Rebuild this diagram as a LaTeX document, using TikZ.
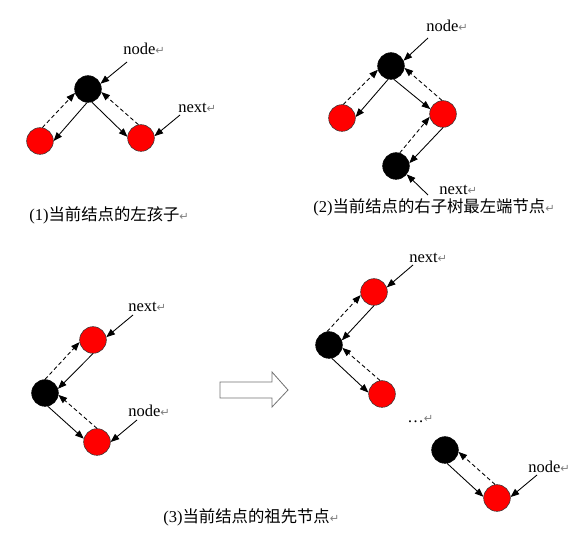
\documentclass[tikz,border=0pt]{standalone}
\usepackage{fontspec}
\setmainfont{Liberation Serif}
\newfontfamily\cjk[Scale=0.99]{Noto Sans CJK SC}
\newfontfamily\symb{DejaVu Sans}
\usetikzlibrary{arrows.meta}
\newcommand\ret{{\symb\color{gray}\fontsize{8.5}{9}\selectfont ↵}}
\tikzset{
  blk/.style={circle,draw,fill=black,minimum size=20pt,inner sep=0pt},
  redn/.style={circle,draw=black!80,fill=red,minimum size=20pt,inner sep=0pt},
  lbl/.style={inner sep=0pt,anchor=base west},
  link/.style={-{Triangle[length=6.5pt,width=5pt]},line width=0.65pt},
  back/.style={link,dash pattern=on 3pt off 2pt},
}
\begin{document}
\begin{tikzpicture}[x=0.75pt,y=-0.75pt,font=\fontsize{12.4}{14}\selectfont]
\useasboundingbox (0,0) rectangle (572,552);
% (1) left child
\node[blk] (b1) at (88,89) {};
\node[redn] (r1l) at (40,141) {};
\node[redn] (r1r) at (141,138) {};
\node[lbl] (node1) at (123,55) {node\ret};
\node[lbl] (next1) at (178,113) {next\ret};
\node[lbl] (cap1) at (29,221) {(1){\cjk 当前结点的左孩子}\ret};

\draw[link] (b1.266) -- (r1l.0);
\draw[back] (r1l.80) -- (b1.197);
\draw[link] (b1.286) -- (r1r.175);
\draw[back] (r1r.101) -- (b1.347);
\draw[link] ([shift={(4,7)}]node1.base west) -- (b1.23);
\draw[link] ([shift={(2,2)}]next1.base west) -- (r1r.8);

% (2) leftmost node of right subtree
\node[blk] (b2) at (391,66) {};
\node[redn] (r2l) at (342,118) {};
\node[redn] (r2r) at (443,114) {};
\node[blk] (b2b) at (396,166) {};
\node[lbl] (node2) at (426,32) {node\ret};
\node[lbl] (next2) at (439,195) {next\ret};
\node[lbl] (cap2) at (313,213) {(2){\cjk 当前结点的右子树最左端节点}\ret};

\draw[link] (b2.258) -- (r2l.4);
\draw[back] (r2l.85) -- (b2.196);
\draw[link] (b2.282) -- (r2r.159);
\draw[back] (r2r.94) -- (b2.352);
\draw[link] (r2r.270) -- (b2b.12);
\draw[back] (b2b.74) -- (r2r.192);
\draw[link] ([shift={(2,6)}]node2.base west) -- (b2.23);
\draw[link] ([shift={(-11,0)}]next2.base west) -- (b2b.322);

% (3) ancestor
\node[redn] (r3t) at (93,340) {};
\node[blk] (b3) at (45,393) {};
\node[redn] (r3b) at (97,442) {};
\node[lbl] (next3) at (128,312) {next\ret};
\node[lbl] (node3) at (128,417) {node\ret};

\draw[link] (r3t.270) -- (b3.18);
\draw[back] (b3.90) -- (r3t.189);
\draw[link] (b3.282) -- (r3b.166);
\draw[back] (r3b.90) -- (b3.352);
\draw[link] ([shift={(5,3)}]next3.base west) -- (r3t.12);
\draw[link] ([shift={(9,3)}]node3.base west) -- (r3b.0);

\draw[draw=black!55,line width=0.6pt,fill=white]
  (220,382) -- (272,382) -- (272,372) -- (288,390) -- (272,407) -- (272,398) -- (220,398) -- cycle;

\node[redn] (ra) at (374,292) {};
\node[blk] (bc) at (329,345) {};
\node[redn] (rd) at (382,394) {};
\node[blk] (be) at (445,450) {};
\node[redn] (rf) at (497,498) {};
\node[lbl] (next4) at (409,263) {next\ret};
\node[lbl] (dots) at (407,423) {…\ret};
\node[lbl] (node4) at (528,473) {node\ret};

\draw[link] (ra.270) -- (bc.20);
\draw[back] (bc.98) -- (ra.193);
\draw[link] (bc.282) -- (rd.174);
\draw[back] (rd.98) -- (bc.348);
\draw[link] (be.279) -- (rf.175);
\draw[back] (rf.98) -- (be.352);
\draw[link] ([shift={(4,2)}]next4.base west) -- (ra.20);
\draw[link] ([shift={(9,2)}]node4.base west) -- (rf.4);

\node[lbl] (cap3) at (163,523) {(3){\cjk 当前结点的祖先节点}\ret};
\end{tikzpicture}
\end{document}
